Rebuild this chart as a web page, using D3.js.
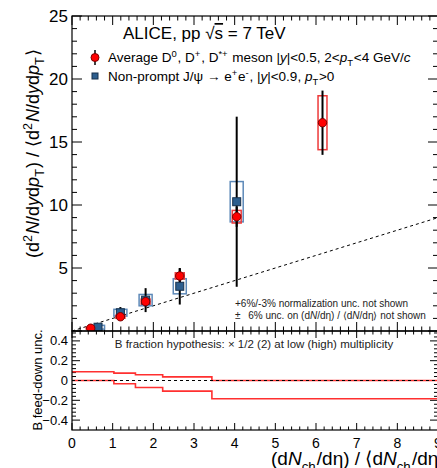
<!DOCTYPE html>
<html>
<head>
<meta charset="utf-8">
<script src="https://cdn.jsdelivr.net/npm/d3@7"></script>
<style>
  body { margin: 0; background: #fff; }
  svg { font-family: "Liberation Sans", Arial, sans-serif; }
</style>
</head>
<body>
<div id="chart"></div>
<script>
// D meson points
const dMult = [0.46, 1.19, 1.81, 2.65, 4.05, 6.16];
const dYield = [0.22, 1.13, 2.33, 4.37, 9.07, 16.53];
const dStat = [0.05, 0.1, 0.2, 0.6, 0.8, 2.55];
const dSyst = [0.06, 0.12, 0.2, 0.25, 0.5, 2.14];

// non-prompt J/psi points
const jMult = [0.64, 1.19, 1.81, 2.65, 4.05];
const jYield = [0.3, 1.45, 2.45, 3.55, 10.26];
const jStat = [0.12, 0.45, 0.95, 1.45, 6.75];
const jSyst = [0.15, 0.27, 0.45, 0.6, 1.6];

// B feed-down band (bottom panel)
const bEdges = [0, 1.03, 1.56, 2.23, 3.44, 9];
const bUpper = [0.088, 0.074, 0.058, 0.037, 0];
const bLower = [0, -0.033, -0.07, -0.107, -0.185];

const xTicks = [0, 1, 2, 3, 4, 5, 6, 7, 8, 9];
const yTicksTop = [5, 10, 15, 20, 25];
const yTicksBot = [-0.4, -0.2, 0, 0.2, 0.4];

const W = 437, H = 468;
const pLeft = 72, pRight = 438, pTop = 16, pMid = 331, pBottom = 430;

const svg = d3.select("#chart").append("svg")
  .attr("width", W).attr("height", H);

const x = d3.scaleLinear().domain([0, 9]).range([pLeft, pRight]);
const y = d3.scaleLinear().domain([0, 25]).range([pMid, pTop]);
const yb = d3.scaleLinear().domain([-0.5, 0.5]).range([pBottom, pMid]);

const red = "#ff0000", boxRed = "#ee3a3a", blue = "#2d5e8e", boxBlue = "#5d89b8";

// clip for panels
svg.append("clipPath").attr("id", "clipTop")
  .append("rect").attr("x", pLeft).attr("y", pTop).attr("width", pRight - pLeft).attr("height", pMid - pTop);
svg.append("clipPath").attr("id", "clipBot")
  .append("rect").attr("x", pLeft).attr("y", pMid).attr("width", pRight - pLeft).attr("height", pBottom - pMid);

// ---- ticks, ROOT style on all sides ----
function xTickMarks(yPos, dir, majLen, minLen) {
  const g = svg.append("g");
  d3.range(0, 9.001, 0.2).forEach(v => {
    const major = Math.abs(v - Math.round(v)) < 1e-6;
    const len = major ? majLen : minLen;
    g.append("line")
      .attr("x1", x(v)).attr("x2", x(v))
      .attr("y1", yPos).attr("y2", yPos + dir * len)
      .attr("stroke", "#000").attr("stroke-width", 1);
  });
}
xTickMarks(pTop, 1, 9, 4.5);
xTickMarks(pMid, -1, 9, 4.5);
xTickMarks(pMid, 1, 7, 3.5);
xTickMarks(pBottom, -1, 7, 3.5);

function yTickMarks(scale, lo, hi, step, every, xPos, dir, majLen, minLen) {
  const g = svg.append("g");
  d3.range(lo, hi + step / 2, step).forEach((v, i) => {
    const major = i % every === 0;
    g.append("line")
      .attr("x1", xPos).attr("x2", xPos + dir * (major ? majLen : minLen))
      .attr("y1", scale(v)).attr("y2", scale(v))
      .attr("stroke", "#000").attr("stroke-width", 1);
  });
}
yTickMarks(y, 0, 25, 1, 5, pLeft, 1, 10, 5);
yTickMarks(y, 0, 25, 1, 5, pRight, -1, 10, 5);
yTickMarks(yb, -0.4, 0.48, 0.04, 5, pLeft, 1, 8, 4);
yTickMarks(yb, -0.4, 0.48, 0.04, 5, pRight, -1, 8, 4);

// tick labels
svg.append("g").selectAll("text").data(yTicksTop).join("text")
  .attr("x", pLeft - 4).attr("y", d => y(d) + 6)
  .attr("text-anchor", "end").attr("font-size", 17).text(d => d);

svg.append("g").selectAll("text").data(yTicksBot).join("text")
  .attr("x", pLeft - 4).attr("y", d => yb(d) + 4.5)
  .attr("text-anchor", "end").attr("font-size", 13)
  .text(d => d === 0 ? "0" : (d < 0 ? "\u2212" : "") + Math.abs(d).toFixed(1));

svg.append("g").selectAll("text").data(xTicks).join("text")
  .attr("x", d => x(d)).attr("y", pBottom + 18)
  .attr("text-anchor", "middle").attr("font-size", 14).text(d => d);

// ---- top panel contents ----
const gTop = svg.append("g").attr("clip-path", "url(#clipTop)");

// y = x reference line
gTop.append("line")
  .attr("x1", x(0)).attr("y1", y(0)).attr("x2", x(9)).attr("y2", y(9))
  .attr("stroke", "#000").attr("stroke-width", 1).attr("stroke-dasharray", "3,3");

const jData = jMult.map((m, i) => ({ m, v: jYield[i], s: jStat[i], b: jSyst[i] }));
const dData = dMult.map((m, i) => ({ m, v: dYield[i], s: dStat[i], b: dSyst[i] }));

// syst boxes
gTop.selectAll(".jbox").data(jData).join("rect")
  .attr("x", d => x(d.m - 0.16)).attr("width", d => x(d.m + 0.16) - x(d.m - 0.16))
  .attr("y", d => y(d.v + d.b)).attr("height", d => y(d.v - d.b) - y(d.v + d.b))
  .attr("fill", "none").attr("stroke", boxBlue).attr("stroke-width", 1.5);

gTop.selectAll(".dbox").data(dData).join("rect")
  .attr("x", d => x(d.m - 0.11)).attr("width", d => x(d.m + 0.11) - x(d.m - 0.11))
  .attr("y", d => y(d.v + d.b)).attr("height", d => y(d.v - d.b) - y(d.v + d.b))
  .attr("fill", "none").attr("stroke", boxRed).attr("stroke-width", 1.5);

// stat bars
gTop.selectAll(".jerr").data(jData).join("line")
  .attr("x1", d => x(d.m)).attr("x2", d => x(d.m))
  .attr("y1", d => y(d.v + d.s)).attr("y2", d => y(d.v - d.s))
  .attr("stroke", "#000").attr("stroke-width", 2);
gTop.selectAll(".derr").data(dData).join("line")
  .attr("x1", d => x(d.m)).attr("x2", d => x(d.m))
  .attr("y1", d => y(d.v + d.s)).attr("y2", d => y(d.v - d.s))
  .attr("stroke", "#000").attr("stroke-width", 2);

// markers
gTop.selectAll(".jpt").data(jData).join("rect")
  .attr("x", d => x(d.m) - 4).attr("y", d => y(d.v) - 4)
  .attr("width", 8).attr("height", 8)
  .attr("fill", blue).attr("stroke", "#17314d").attr("stroke-width", 1);
gTop.selectAll(".dpt").data(dData).join("circle")
  .attr("cx", d => x(d.m)).attr("cy", d => y(d.v)).attr("r", 4.2)
  .attr("fill", red).attr("stroke", "#7a0000").attr("stroke-width", 1);

// ---- bottom panel ----
const gBot = svg.append("g").attr("clip-path", "url(#clipBot)");

function stepPath(vals) {
  const pts = [];
  vals.forEach((v, i) => {
    pts.push([x(bEdges[i]), yb(v)]);
    pts.push([x(bEdges[i + 1]), yb(v)]);
  });
  return d3.line()(pts);
}
gBot.append("path").attr("d", stepPath(bUpper))
  .attr("fill", "none").attr("stroke", "#ff3030").attr("stroke-width", 1.6);
gBot.append("path").attr("d", stepPath(bLower))
  .attr("fill", "none").attr("stroke", "#ff3030").attr("stroke-width", 1.6);
gBot.append("line")
  .attr("x1", x(0)).attr("x2", x(9)).attr("y1", yb(0)).attr("y2", yb(0))
  .attr("stroke", "#000").attr("stroke-width", 1).attr("stroke-dasharray", "3,3");

// frames
svg.append("rect").attr("x", pLeft).attr("y", pTop).attr("width", pRight - pLeft).attr("height", pMid - pTop)
  .attr("fill", "none").attr("stroke", "#000").attr("stroke-width", 1.2);
svg.append("rect").attr("x", pLeft).attr("y", pMid).attr("width", pRight - pLeft).attr("height", pBottom - pMid)
  .attr("fill", "none").attr("stroke", "#000").attr("stroke-width", 1.2);

// ---- texts ----
function rich(sel, parts) {
  // parts: plain string or [text, style] with style "i", "sup" or "sub"
  const fs = parseFloat(sel.attr("font-size"));
  parts.forEach(p => {
    const [t, s] = Array.isArray(p) ? p : [p, null];
    const ts = sel.append("tspan").text(t);
    if (s === "i") ts.attr("font-style", "italic");
    if (s === "sup" || s === "sub") {
      const shift = s === "sup" ? -fs * 0.38 : fs * 0.3;
      ts.attr("font-size", fs * 0.7).attr("dy", shift);
      sel.append("tspan").attr("font-size", fs * 0.7).attr("dy", -shift).text("\u200a");
    }
  });
}

// y title top
const yt = svg.append("text").attr("font-size", 18)
  .attr("transform", "translate(39,258) rotate(-90)");
rich(yt, ["(d", ["2", "sup"], ["N", "i"], "/d", ["y", "i"], "d", ["p", "i"], ["T", "sub"],
  ") / \u27E8d", ["2", "sup"], ["N", "i"], "/d", ["y", "i"], "d", ["p", "i"], ["T", "sub"], "\u27E9"]);

// y title bottom
svg.append("text").attr("font-size", 13).attr("text-anchor", "middle")
  .attr("transform", "translate(42,380) rotate(-90)").text("B feed-down unc.");

// x title (runs off the right edge, as in the original figure)
const xt = svg.append("text").attr("font-size", 19).attr("x", 271).attr("y", 465);
rich(xt, ["(d", ["N", "i"], ["ch", "sub"], "/d\u03B7) / \u27E8d", ["N", "i"], ["ch", "sub"], "/d\u03B7\u27E9"]);

// ALICE label
const al = svg.append("text").attr("font-size", 17).attr("x", 123).attr("y", 39);
al.append("tspan").text("ALICE, pp  \u221A");
al.append("tspan").attr("text-decoration", "overline").text("s");
al.append("tspan").text(" = 7 TeV");

// legend
svg.append("line").attr("x1", 95).attr("x2", 95).attr("y1", 50).attr("y2", 65)
  .attr("stroke", "#000").attr("stroke-width", 1.5);
svg.append("circle").attr("cx", 95).attr("cy", 57.5).attr("r", 4)
  .attr("fill", red).attr("stroke", "#7a0000");
const l1 = svg.append("text").attr("font-size", 13.5).attr("x", 108).attr("y", 62);
rich(l1, ["Average D", ["0", "sup"], ", D", ["+", "sup"], ", D", ["*+", "sup"], " meson |", ["y", "i"],
  "|<0.5, 2<", ["p", "i"], ["T", "sub"], "<4 GeV/", ["c", "i"]]);

svg.append("rect").attr("x", 92).attr("y", 73).attr("width", 6).attr("height", 6)
  .attr("fill", blue).attr("stroke", "#17314d");
const l2 = svg.append("text").attr("font-size", 13.5).attr("x", 108).attr("y", 81);
rich(l2, ["Non-prompt J/\u03C8 \u2192 e", ["+", "sup"], "e", ["-", "sup"], ", |", ["y", "i"],
  "|<0.9, ", ["p", "i"], ["T", "sub"], ">0"]);

// notes
svg.append("text").attr("font-size", 10).attr("x", 235).attr("y", 307)
  .attr("fill", "#222").text("+6%/-3% normalization unc. not shown");
const n2 = svg.append("text").attr("font-size", 10).attr("x", 235).attr("y", 319)
  .attr("fill", "#222").attr("xml:space", "preserve");
rich(n2, ["\u00B1\u2002 6% unc. on (d", ["N", "i"], "/d\u03B7) / \u27E8d", ["N", "i"], "/d\u03B7\u27E9 not shown"]);

svg.append("text").attr("font-size", 11.5).attr("x", 254).attr("y", 348)
  .attr("text-anchor", "middle").attr("fill", "#222")
  .text("B fraction hypothesis: \u00D7 1/2 (2) at low (high) multiplicity");
</script>
</body>
</html>
